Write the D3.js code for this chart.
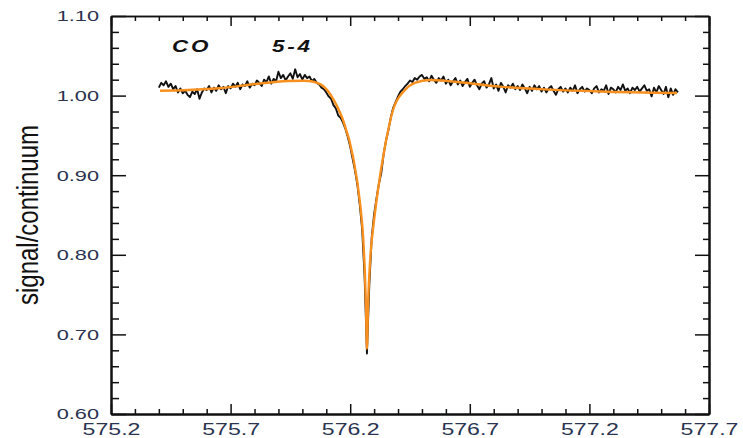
<!DOCTYPE html>
<html>
<head>
<meta charset="utf-8">
<script src="https://cdn.jsdelivr.net/npm/d3@7"></script>
<style>
  html, body { margin: 0; padding: 0; background: #fff; }
  svg { display: block; }
</style>
</head>
<body>
<div id="chart"></div>
<script>
"use strict";

// axis ticks
var xMajor = [575.2, 575.7, 576.2, 576.7, 577.2, 577.7];
var xTickLabels = ["575.2", "575.7", "576.2", "576.7", "577.2", "577.7"];
var yMajor = [0.60, 0.70, 0.80, 0.90, 1.00, 1.10];
var yTickLabels = ["0.60", "0.70", "0.80", "0.90", "1.00", "1.10"];

// observed spectrum: first channel and channel width (GHz)
var obsStart = 575.40;
var obsStep = 0.01;
var obsValues = [
  1.010, 1.016, 1.013, 1.018, 1.011, 1.015, 1.008, 1.012, 1.004, 1.009,
  1.003, 1.006, 1.001, 0.998, 1.005, 1.002, 1.008, 0.996, 1.004, 1.009,
  1.007, 1.012, 1.004, 1.010, 1.006, 1.013, 1.008, 1.011, 1.003, 1.012,
  1.009, 1.015, 1.011, 1.016, 1.008, 1.014, 1.012, 1.018, 1.010, 1.015,
  1.013, 1.019, 1.016, 1.012, 1.020, 1.017, 1.024, 1.015, 1.021, 1.018,
  1.030, 1.022, 1.026, 1.019, 1.024, 1.028, 1.021, 1.033, 1.023, 1.027,
  1.020, 1.026, 1.022, 1.024, 1.018, 1.021, 1.016, 1.014, 1.010, 1.008,
  1.004, 0.999, 0.996, 0.988, 0.984, 0.975, 0.972, 0.966, 0.958, 0.948,
  0.936, 0.921, 0.906, 0.888, 0.863, 0.832, 0.774, 0.676, 0.763, 0.822,
  0.851, 0.871, 0.889, 0.903, 0.927, 0.944, 0.957, 0.973, 0.985, 0.992,
  0.999, 1.005, 1.008, 1.012, 1.015, 1.019, 1.017, 1.022, 1.020, 1.024,
  1.026, 1.021, 1.023, 1.018, 1.025, 1.020, 1.016, 1.022, 1.019, 1.024,
  1.015, 1.020, 1.013, 1.018, 1.022, 1.014, 1.019, 1.012, 1.017, 1.021,
  1.011, 1.016, 1.020, 1.013, 1.008, 1.015, 1.018, 1.010, 1.014, 1.022,
  1.009, 1.014, 1.006, 1.016, 1.011, 1.004, 1.013, 1.010, 1.015, 1.008,
  1.012, 1.007, 1.014, 1.009, 1.003, 1.011, 1.006, 1.013, 1.008, 1.012,
  1.005, 1.010, 1.004, 1.009, 1.012, 1.006, 1.001, 1.008, 1.011, 1.005,
  1.009, 1.004, 1.010, 1.006, 1.013, 1.003, 1.008, 1.011, 1.005, 1.009,
  1.007, 1.003, 1.009, 1.012, 1.004, 1.008, 1.006, 1.013, 1.002, 1.010,
  1.008, 1.004, 1.011, 1.007, 1.014, 1.006, 1.009, 1.003, 1.010, 1.007,
  1.011, 1.005, 1.009, 1.013, 1.006, 1.008, 0.999, 1.010, 1.004, 1.012,
  1.007, 1.002, 1.011, 0.998, 1.009, 1.001, 1.008, 1.004
];

// fitted line profile
var fitFreq = [
  575.405, 575.522, 575.664, 575.802, 575.940, 576.011, 576.065, 576.107,
  576.136, 576.170, 576.212, 576.241, 576.254, 576.262, 576.266, 576.270,
  576.275, 576.280, 576.286, 576.295, 576.316, 576.345, 576.379, 576.429,
  576.470, 576.534, 576.688, 576.826, 577.035, 577.244, 577.566
];
var fitValues = [
  1.006, 1.007, 1.0095, 1.0145, 1.0183, 1.0187, 1.0158, 1.0058,
  0.9918, 0.9693, 0.9229, 0.8651, 0.8224, 0.7721, 0.735, 0.682,
  0.740, 0.775, 0.805, 0.8312, 0.8814, 0.9354, 0.9819, 1.0070,
  1.0160, 1.0196, 1.0158, 1.0113, 1.0075, 1.0052, 1.0033
];

var W = 743, H = 438;
var margin = { top: 16, right: 34, bottom: 24, left: 111 };
var iw = W - margin.left - margin.right,
    ih = H - margin.top - margin.bottom;

var svg = d3.select("#chart").append("svg")
    .attr("width", W)
    .attr("height", H);

var g = svg.append("g")
    .attr("transform", "translate(" + margin.left + "," + margin.top + ")");

var x = d3.scaleLinear().domain([575.2, 577.7]).range([0, iw]);
var y = d3.scaleLinear().domain([0.60, 1.10]).range([ih, 0]);

var xMinor = d3.range(26).filter(function (i) { return i % 5 !== 0; })
    .map(function (i) { return 575.2 + i * 0.1; });
var yMinor = d3.range(26).filter(function (i) { return i % 5 !== 0; })
    .map(function (i) { return 0.60 + i * 0.02; });

var SX = 1.4; // the original glyphs are drawn wide
var tickFont = "'Liberation Sans', Arial, sans-serif";

function styleAxis(sel, width) {
    sel.select(".domain").attr("stroke", "#111").attr("stroke-width", width);
    sel.selectAll(".tick line").attr("stroke", "#111").attr("stroke-width", 1.5);
}

// minor ticks
g.append("g").attr("transform", "translate(0," + ih + ")")
    .call(d3.axisBottom(x).tickValues(xMinor).tickFormat("").tickSizeInner(-5).tickSizeOuter(0))
    .call(styleAxis, 2);
g.append("g")
    .call(d3.axisTop(x).tickValues(xMinor).tickFormat("").tickSizeInner(-5).tickSizeOuter(0))
    .call(styleAxis, 1.5);
g.append("g")
    .call(d3.axisLeft(y).tickValues(yMinor).tickFormat("").tickSizeInner(-8).tickSizeOuter(0))
    .call(styleAxis, 2);
g.append("g").attr("transform", "translate(" + iw + ",0)")
    .call(d3.axisRight(y).tickValues(yMinor).tickFormat("").tickSizeInner(-6).tickSizeOuter(0))
    .call(styleAxis, 2);

// major ticks
var xAxisG = g.append("g").attr("transform", "translate(0," + ih + ")")
    .call(d3.axisBottom(x).tickValues(xMajor)
        .tickFormat(function (d, i) { return xTickLabels[i]; })
        .tickSizeInner(-10).tickSizeOuter(0).tickPadding(9))
    .call(styleAxis, 2);
xAxisG.selectAll("text")
    .attr("font-family", tickFont)
    .attr("font-size", 16.5)
    .attr("fill", "#2a3350")
    .attr("transform", "scale(" + SX + ",1)");

g.append("g")
    .call(d3.axisTop(x).tickValues(xMajor).tickFormat("").tickSizeInner(-10).tickSizeOuter(0))
    .call(styleAxis, 1.5);

var yAxisG = g.append("g")
    .call(d3.axisLeft(y).tickValues(yMajor)
        .tickFormat(function (d, i) { return yTickLabels[i]; })
        .tickSizeInner(-15).tickSizeOuter(0).tickPadding(12))
    .call(styleAxis, 2);
yAxisG.selectAll("text")
    .attr("font-family", tickFont)
    .attr("font-size", 15)
    .attr("fill", "#2a3350")
    .attr("x", -12 / 1.45)
    .attr("transform", "scale(1.45,1)");

g.append("g").attr("transform", "translate(" + iw + ",0)")
    .call(d3.axisRight(y).tickValues(yMajor).tickFormat("").tickSizeInner(-14).tickSizeOuter(0))
    .call(styleAxis, 2);

// data
var obs = obsValues.map(function (v, i) { return { f: obsStart + i * obsStep, v: v }; });
var fit = fitFreq.map(function (f, i) { return { f: f, v: fitValues[i] }; });

g.append("path")
    .datum(obs)
    .attr("fill", "none")
    .attr("stroke", "#111")
    .attr("stroke-width", 1.9)
    .attr("stroke-linejoin", "round")
    .attr("d", d3.line().x(function (d) { return x(d.f); }).y(function (d) { return y(d.v); }));

g.append("path")
    .datum(fit)
    .attr("fill", "none")
    .attr("stroke", "#f7901e")
    .attr("stroke-width", 2.4)
    .attr("d", d3.line().curve(d3.curveMonotoneX)
        .x(function (d) { return x(d.f); }).y(function (d) { return y(d.v); }));

// labels
svg.append("text")
    .attr("transform", "translate(172,52) scale(" + SX + ",1)")
    .attr("font-family", tickFont)
    .attr("font-size", 16)
    .attr("font-weight", "bold")
    .attr("font-style", "italic")
    .attr("letter-spacing", 2)
    .attr("fill", "#111")
    .text("CO");

svg.append("text")
    .attr("transform", "translate(272,52) scale(" + SX + ",1)")
    .attr("font-family", tickFont)
    .attr("font-size", 16)
    .attr("font-weight", "bold")
    .attr("font-style", "italic")
    .attr("letter-spacing", 2)
    .attr("fill", "#111")
    .text("5-4");

svg.append("text")
    .attr("transform", "translate(38,215) scale(1.25,1) rotate(-90)")
    .attr("text-anchor", "middle")
    .attr("font-family", tickFont)
    .attr("font-size", 24)
    .attr("fill", "#111")
    .text("signal/continuum");
</script>
</body>
</html>
